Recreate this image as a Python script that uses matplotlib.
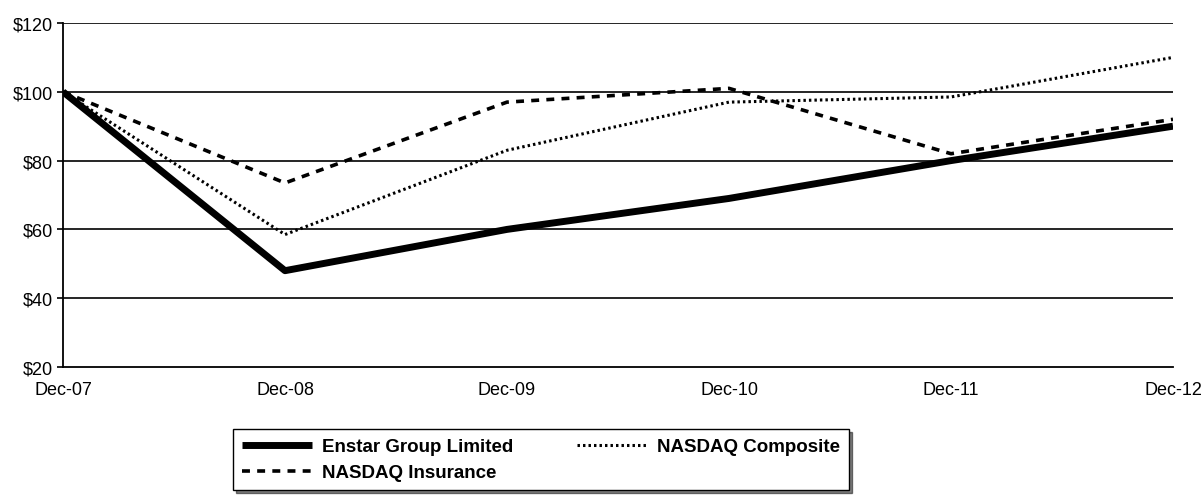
import matplotlib.pyplot as plt
from matplotlib.ticker import FuncFormatter

# values
years = ['Dec-07', 'Dec-08', 'Dec-09', 'Dec-10', 'Dec-11', 'Dec-12']
enstar = [100, 48, 60, 69, 80, 90]
nasdaq_insurance = [100, 73.5, 97, 101, 82, 92]
nasdaq_composite = [100, 58.5, 83, 97, 98.5, 110]

plt.rcParams['font.family'] = ['Liberation Sans', 'DejaVu Sans']

fig = plt.figure(figsize=(12.03, 5.02), dpi=100)
ax = fig.add_axes([63 / 1203, 1 - 368 / 502, 1110 / 1203, 344 / 502])

x = list(range(len(years)))

# horizontal grid
for v in [40, 60, 80, 100, 120]:
    ax.axhline(v, color='black', lw=1.2, zorder=1)

ax.plot(x, enstar, color='black', lw=5.0, solid_capstyle='butt',
        label='Enstar Group Limited', zorder=3)
ax.plot(x, nasdaq_insurance, color='black', lw=2.6, dashes=(2.2, 2.0),
        label='NASDAQ Insurance', zorder=3)
ax.plot(x, nasdaq_composite, color='black', lw=2.2, dashes=(0.8, 1.0),
        label='NASDAQ Composite', zorder=3)

ax.set_xlim(0, len(years) - 1)
ax.set_ylim(20, 120)
ax.set_yticks([20, 40, 60, 80, 100, 120])
ax.yaxis.set_major_formatter(FuncFormatter(lambda v, p: f'${v:.0f}'))
ax.set_xticks(x)
ax.set_xticklabels(years)

for side in ['top', 'right']:
    ax.spines[side].set_visible(False)
ax.spines['left'].set_linewidth(1.3)
ax.spines['bottom'].set_linewidth(1.3)
ax.tick_params(axis='y', length=4, width=1.2, labelsize=13, pad=3)
ax.tick_params(axis='x', length=0, labelsize=13, pad=10)

handles, labels = ax.get_legend_handles_labels()
leg = fig.legend(handles, labels, ncol=2, loc='upper left',
                 bbox_to_anchor=(233 / 1203, 1 - 430 / 502),
                 borderaxespad=0,
                 frameon=True, fancybox=False, shadow={'color': 'black'},
                 prop={'weight': 'bold', 'size': 13.5},
                 handlelength=3.7, columnspacing=3.4, labelspacing=0.45,
                 borderpad=0.5, handletextpad=0.55)
leg.get_frame().set_edgecolor('black')
leg.get_frame().set_linewidth(1.0)

fig.savefig('out.png', dpi=100)
